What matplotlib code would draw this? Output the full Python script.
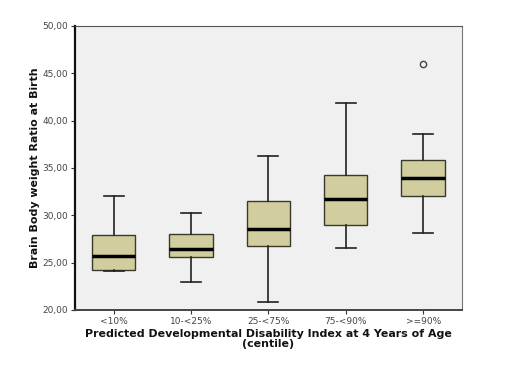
import matplotlib.pyplot as plt

# groups on the x axis
gruplar = ["<10%", "10-<25%", "25-<75%", "75-<90%", ">=90%"]

# box statistics
alt_biyik = [24.1, 23.0, 20.8, 26.5, 28.1]
q1 = [24.2, 25.6, 26.8, 29.0, 32.0]
medyan = [25.75, 26.4, 28.5, 31.75, 33.9]
q3 = [27.9, 28.0, 31.5, 34.2, 35.85]
ust_biyik = [32.0, 30.2, 36.3, 41.9, 38.6]
aykiri = [[], [], [], [], [46.0]]

yticks = [20, 25, 30, 35, 40, 45, 50]

stats = []
for i in range(len(gruplar)):
    stats.append({
        "label": gruplar[i],
        "whislo": alt_biyik[i],
        "q1": q1[i],
        "med": medyan[i],
        "q3": q3[i],
        "whishi": ust_biyik[i],
        "fliers": aykiri[i],
    })

fig = plt.figure(figsize=(5.12, 3.86), dpi=100)
ax = fig.add_axes([0.1465, 0.197, 0.7555, 0.736])
ax.set_facecolor("#f0f0f0")

ax.bxp(stats, positions=range(1, 6), widths=0.56, patch_artist=True,
       boxprops=dict(facecolor="#d1cd9e", edgecolor="#3a3a2a", linewidth=1.0),
       medianprops=dict(color="black", linewidth=2.5),
       whiskerprops=dict(color="#222222", linewidth=1.2),
       capprops=dict(color="#222222", linewidth=1.2),
       capwidths=0.26,
       flierprops=dict(marker="o", markersize=4.5, markerfacecolor="none",
                       markeredgecolor="#444444", markeredgewidth=1.0))

ax.set_xlim(0.5, 5.5)
ax.set_ylim(20, 50)
ax.set_yticks(yticks)
ax.set_yticklabels([f"{v:.2f}".replace(".", ",") for v in yticks])
ax.tick_params(axis="both", labelsize=6.5, labelcolor="#444444", length=3,
               color="#333333", pad=2)

ax.spines["left"].set_linewidth(1.6)
ax.spines["left"].set_color("#111111")
ax.spines["bottom"].set_linewidth(1.4)
ax.spines["bottom"].set_color("#444444")
ax.spines["top"].set_color("#555555")
ax.spines["right"].set_color("#777777")

ax.set_xlabel("Predicted Developmental Disability Index at 4 Years of Age\n(centile)",
              fontsize=7.9, fontweight="bold", linespacing=1.0, labelpad=2,
              color="#111111")
ax.set_ylabel("Brain Body weight Ratio at Birth", fontsize=7.9, fontweight="bold",
              labelpad=2, color="#111111")

fig.savefig("out.png", dpi=100)
